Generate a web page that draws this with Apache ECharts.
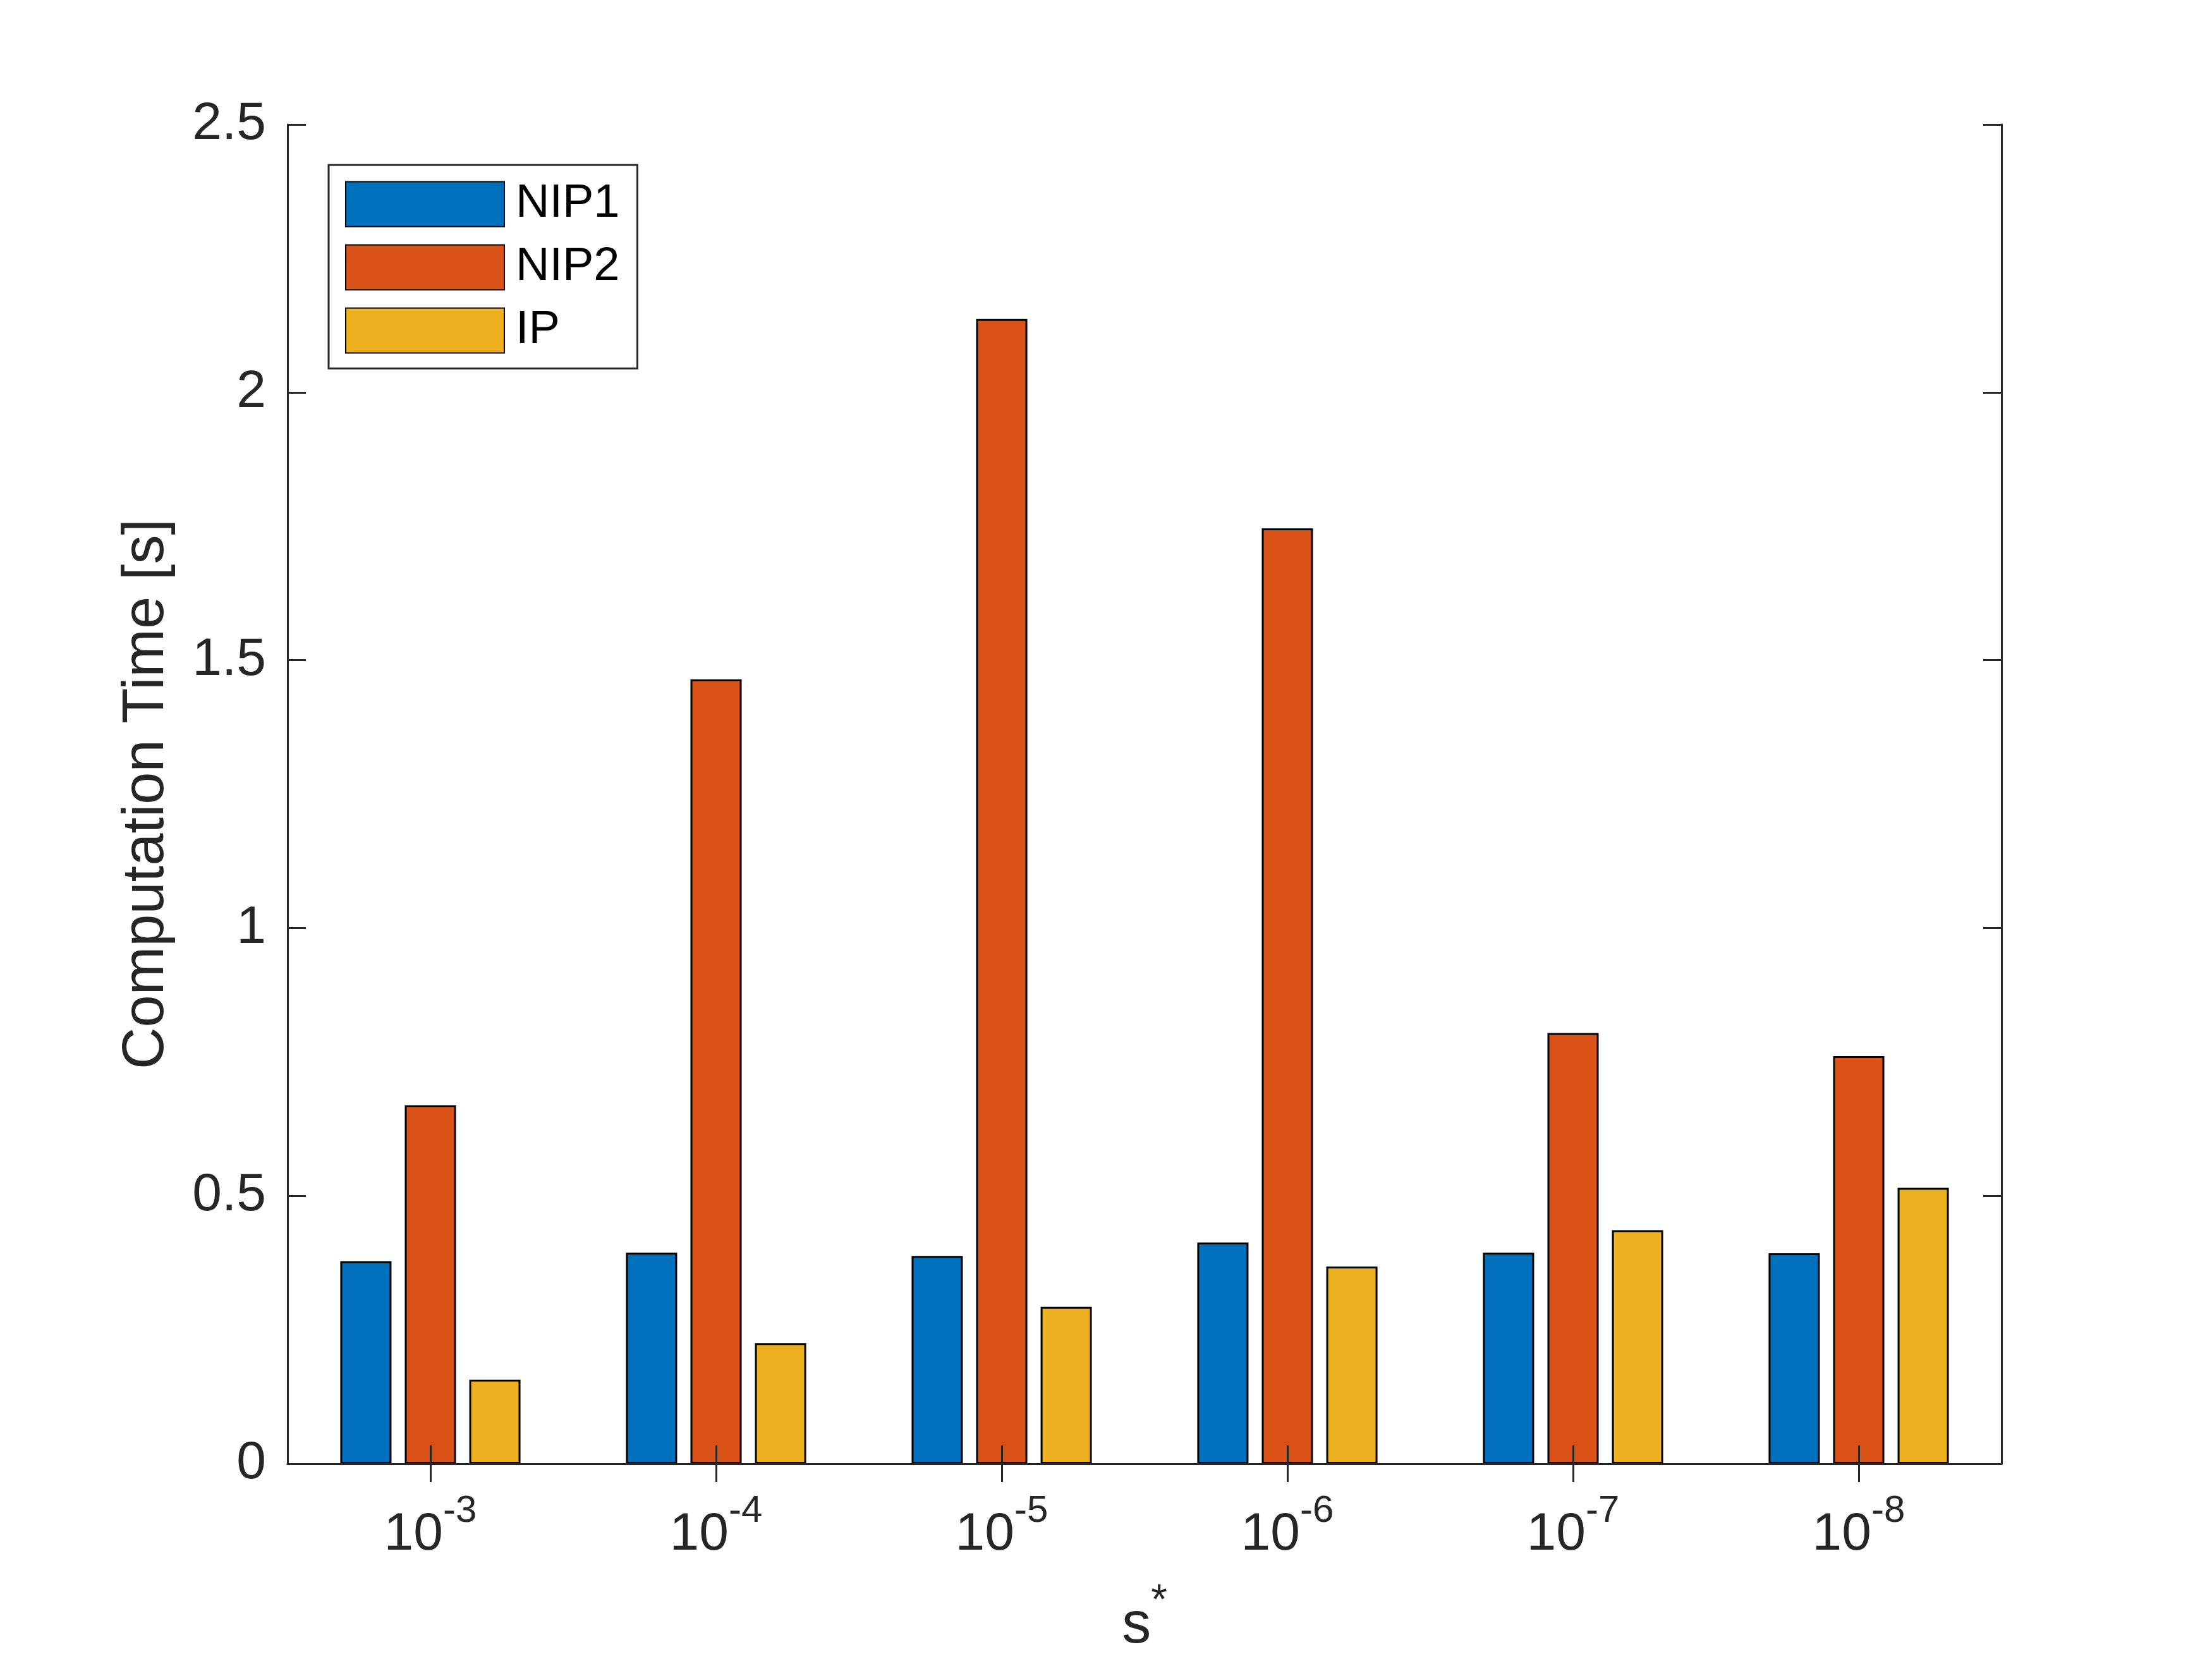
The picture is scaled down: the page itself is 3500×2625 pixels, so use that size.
<!DOCTYPE html>
<html><head><meta charset="utf-8">
<script src="https://cdn.jsdelivr.net/npm/echarts@6/dist/echarts.min.js"></script>
<style>html,body{margin:0;padding:0;background:#fff}#c{width:3500px;height:2625px}</style>
</head><body><div id="c"></div>
<script>
const exponents = ['-3', '-4', '-5', '-6', '-7', '-8'];
const categories = exponents.map(e => '10^' + e);
const seriesNames = ['NIP1', 'NIP2', 'IP'];
const nip1 = [0.378, 0.394, 0.388, 0.413, 0.394, 0.393];
const nip2 = [0.669, 1.464, 2.137, 1.746, 0.804, 0.761];
const ip = [0.157, 0.225, 0.293, 0.368, 0.436, 0.515];
const yTickStep = 0.5;
const yMin = 0, yMax = 2.5;
const yTitle = 'Computation Time [s]';
const xTitleBase = 's', xTitleSup = '*';

const FONT = '"Liberation Sans", Arial, Helvetica, sans-serif';
const AX = '#262626';
const colors = ['#0072BD', '#D95319', '#EDB120'];
const seriesData = [nip1, nip2, ip];

const chart = echarts.init(document.getElementById('c'), null, {renderer: 'canvas'});

const axisLine = {show: true, lineStyle: {color: AX, width: 3}};
const axisTick = {show: true, inside: true, length: 29, lineStyle: {color: AX, width: 3}};

chart.setOption({
  animation: false,
  backgroundColor: '#fff',
  textStyle: {fontFamily: FONT},
  grid: {left: 455, right: 333, top: 197, bottom: 309, containLabel: false},
  legend: {
    orient: 'vertical', left: 520, top: 261,
    padding: [25, 28, 23, 26],
    itemWidth: 251, itemHeight: 71, itemGap: 26,
    icon: 'rect',
    borderColor: AX, borderWidth: 3, backgroundColor: '#fff',
    textStyle: {fontSize: 74, lineHeight: 65, color: '#000', fontFamily: FONT, padding: [6, 0, 0, 13]},
    data: seriesNames
  },
  xAxis: [{
    type: 'category', data: categories, position: 'bottom', z: 10,
    axisLine: axisLine,
    axisTick: Object.assign({alignWithLabel: true, interval: 0}, axisTick),
    axisLabel: {
      interval: 0, margin: 45, color: AX, fontFamily: FONT,
      formatter: v => { const p = v.split('^'); return '{b|' + p[0] + '}{s|' + p[1] + '}'; },
      rich: {
        b: {fontSize: 84, lineHeight: 110, verticalAlign: 'bottom', color: AX, fontFamily: FONT},
        s: {fontSize: 60, lineHeight: 60, verticalAlign: 'top', color: AX, fontFamily: FONT}
      }
    },
    splitLine: {show: false},
    name: '{b|' + xTitleBase + '}{s|' + xTitleSup + '}',
    nameLocation: 'middle', nameGap: 186,
    nameTextStyle: {
      color: AX,
      rich: {
        b: {fontSize: 92, lineHeight: 118, verticalAlign: 'bottom', color: AX, fontFamily: FONT},
        s: {fontSize: 66, lineHeight: 66, verticalAlign: 'top', color: AX, fontFamily: FONT}
      }
    }
  }, {
    type: 'category', data: categories, position: 'top', z: 10,
    axisLine: axisLine,
    axisTick: Object.assign({alignWithLabel: true, interval: 0}, axisTick),
    axisLabel: {show: false},
    splitLine: {show: false}
  }],
  yAxis: [{
    type: 'value', min: yMin, max: yMax, interval: yTickStep, position: 'left', z: 10,
    axisLine: axisLine, axisTick: axisTick,
    axisLabel: {fontSize: 84, color: AX, margin: 34, fontFamily: FONT},
    splitLine: {show: false},
    name: yTitle, nameLocation: 'middle', nameGap: 176, nameRotate: 90,
    nameTextStyle: {fontSize: 92, color: AX, fontFamily: FONT}
  }, {
    type: 'value', min: yMin, max: yMax, interval: yTickStep, position: 'right', z: 10,
    axisLine: axisLine, axisTick: axisTick,
    axisLabel: {show: false},
    splitLine: {show: false}
  }],
  series: seriesNames.map((name, i) => ({
    name: name, type: 'bar', xAxisIndex: 0, yAxisIndex: 0,
    data: seriesData[i],
    barWidth: 81, barGap: '26%',
    itemStyle: {color: colors[i], borderColor: '#000', borderWidth: 3}
  }))
});
</script></body></html>
